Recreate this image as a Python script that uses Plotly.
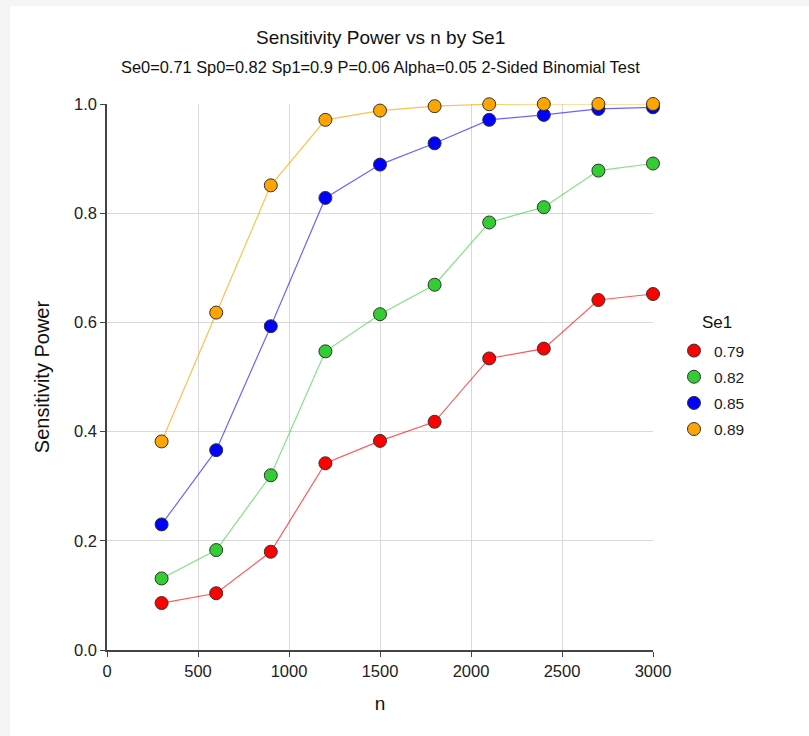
import plotly.graph_objects as go

n_values = [300, 600, 900, 1200, 1500, 1800, 2100, 2400, 2700, 3000]
se1_labels = ["0.79", "0.82", "0.85", "0.89"]
power_079 = [0.086, 0.104, 0.180, 0.342, 0.383, 0.418, 0.534, 0.552, 0.641, 0.652]
power_082 = [0.131, 0.183, 0.320, 0.547, 0.615, 0.669, 0.783, 0.811, 0.878, 0.891]
power_085 = [0.230, 0.366, 0.593, 0.828, 0.889, 0.928, 0.971, 0.980, 0.991, 0.994]
power_089 = [0.382, 0.618, 0.851, 0.971, 0.988, 0.996, 0.9995, 1.0, 1.0, 1.0]
x_ticks = [0, 500, 1000, 1500, 2000, 2500, 3000]
y_ticks = [0.0, 0.2, 0.4, 0.6, 0.8, 1.0]

series = [power_079, power_082, power_085, power_089]
marker_colors = ["#ff0000", "#33cc33", "#0000ff", "#ffa500"]
line_colors = ["rgba(255,0,0,0.65)", "rgba(51,204,51,0.6)", "rgba(0,0,255,0.6)", "rgba(255,165,0,0.7)"]

FONT = "Liberation Sans, Arial, sans-serif"

fig = go.Figure()
# lines (not in legend)
for lab, ys, lc in zip(se1_labels, series, line_colors):
    fig.add_trace(go.Scatter(
        x=n_values, y=ys, name=lab, mode="lines", legendgroup=lab,
        showlegend=False, line=dict(color=lc, width=1.2),
        cliponaxis=False, hoverinfo="skip",
    ))
# markers (in legend)
for lab, ys, mc in zip(se1_labels, series, marker_colors):
    fig.add_trace(go.Scatter(
        x=n_values, y=ys, name=lab, mode="markers", legendgroup=lab,
        marker=dict(size=13, color=mc, line=dict(color="#333333", width=1)),
        cliponaxis=False,
    ))

L, R, T, B = 107, 653, 104, 650
W, H = 809, 736
pw, ph = R - L, B - T

def px_x(px):
    return (px - L) / pw

def px_y(py):
    return (B - py) / ph

fig.add_shape(type="rect", xref="paper", yref="paper",
              x0=px_x(10), x1=px_x(W + 5), y0=px_y(6), y1=px_y(H + 5),
              fillcolor="white", line=dict(width=0), layer="below")

fig.add_annotation(text="Sensitivity Power vs n by Se1", xref="paper", yref="paper",
                   x=0.5, y=px_y(37), showarrow=False, xanchor="center", yanchor="middle",
                   font=dict(family=FONT, size=19, color="#111111"))
fig.add_annotation(text="Se0=0.71 Sp0=0.82 Sp1=0.9 P=0.06 Alpha=0.05 2-Sided Binomial Test",
                   xref="paper", yref="paper",
                   x=0.5, y=px_y(67), showarrow=False, xanchor="center", yanchor="middle",
                   font=dict(family=FONT, size=16.4, color="#111111"))
fig.add_annotation(text="Se1", xref="paper", yref="paper",
                   x=px_x(717), y=px_y(322), showarrow=False, xanchor="center", yanchor="middle",
                   font=dict(family=FONT, size=17, color="#111111"))

fig.update_layout(
    width=W, height=H,
    margin=dict(l=L, r=W - R, t=T, b=H - B, pad=0),
    paper_bgcolor="#f5f5f5",
    plot_bgcolor="white",
    font=dict(family=FONT, size=16, color="#222222"),
    showlegend=True,
    legend=dict(
        x=px_x(674), y=px_y(334), xanchor="left", yanchor="top",
        traceorder="grouped", tracegroupgap=3,
        font=dict(family=FONT, size=15.5, color="#222222"),
        bgcolor="rgba(0,0,0,0)",
        itemclick=False,
    ),
)
fig.update_xaxes(
    range=[0, 3000], tickvals=x_ticks, ticktext=[str(v) for v in x_ticks],
    showgrid=True, gridcolor="#d9d9d9", gridwidth=1,
    showline=True, linecolor="#444444", linewidth=1.5,
    ticks="outside", ticklen=5, tickcolor="#444444",
    zeroline=False,
    title=dict(text="n", font=dict(family=FONT, size=19, color="#111111"), standoff=18),
    tickfont=dict(family=FONT, size=16.5, color="#222222"),
)
fig.update_yaxes(
    range=[0, 1.0], tickvals=y_ticks, ticktext=[f"{v:.1f}" for v in y_ticks],
    showgrid=True, gridcolor="#d9d9d9", gridwidth=1,
    showline=True, linecolor="#444444", linewidth=1.5,
    ticks="outside", ticklen=5, tickcolor="#444444",
    zeroline=False,
    title=dict(text="Sensitivity Power", font=dict(family=FONT, size=20, color="#111111"), standoff=19),
    tickfont=dict(family=FONT, size=16.5, color="#222222"),
)

fig.write_html("out.html")
